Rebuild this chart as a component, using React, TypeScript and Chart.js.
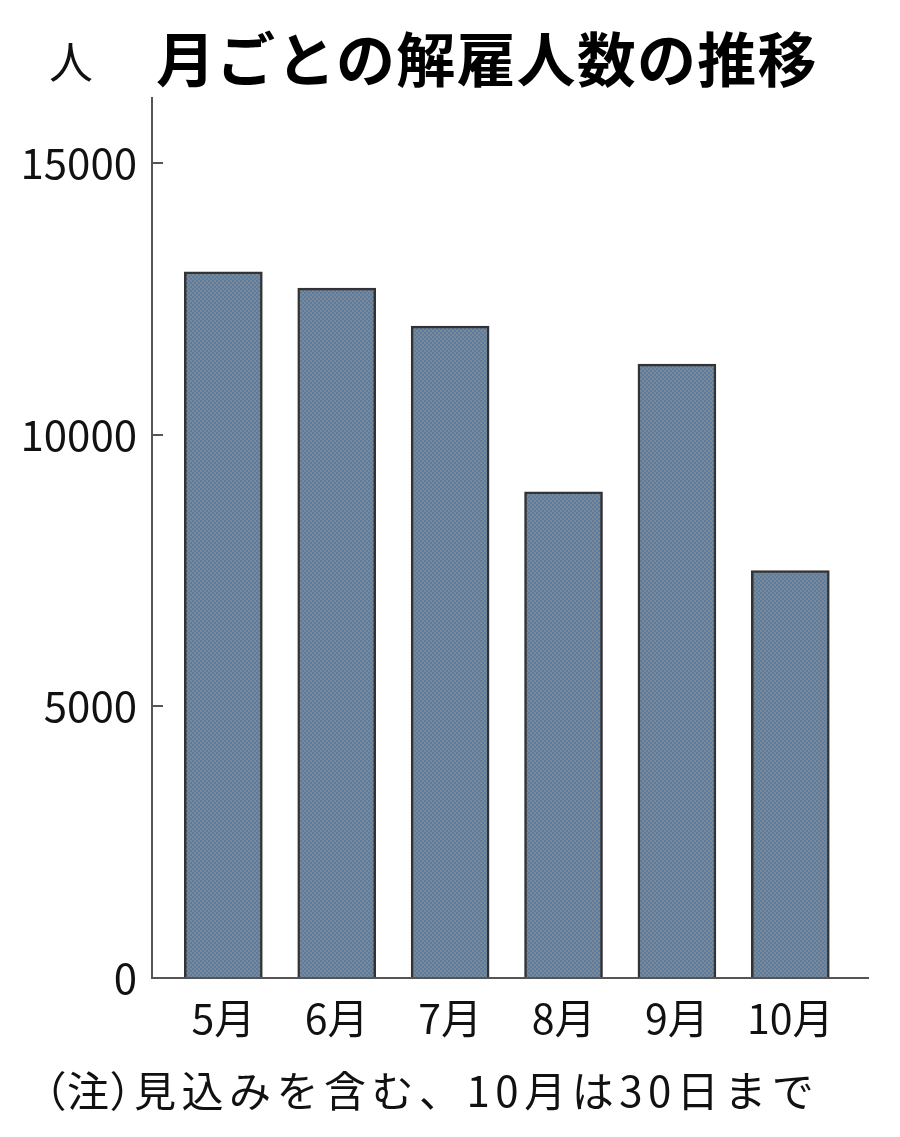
import React, { useEffect, useRef } from "react";
import { Chart, registerables } from "chart.js";
Chart.register(...registerables);

const months = ["5月", "6月", "7月", "8月", "9月", "10月"];
const dismissals = [13000, 12700, 12000, 8950, 11300, 7500];
const yTicks = [0, 5000, 10000, 15000];
const unitLabel = "人";
const titleText = "月ごとの解雇人数の推移";
const notePrefix = "（注）";
const noteBody = "見込みを含む、10月は30日まで";

const cjk = "'Noto Sans CJK JP','Noto Sans',sans-serif";

export default function App() {
  const ref = useRef<HTMLCanvasElement>(null);
  useEffect(() => {
    const pc = document.createElement("canvas");
    pc.width = 4;
    pc.height = 4;
    const p = pc.getContext("2d")!;
    p.fillStyle = "#7c8894";
    p.fillRect(0, 0, 4, 4);
    p.fillStyle = "#5a7ca3";
    p.fillRect(0, 0, 2, 2);
    p.fillRect(2, 2, 2, 2);
    const ctx = ref.current!.getContext("2d")!;
    const pattern = ctx.createPattern(pc, "repeat")!;
    const chart = new Chart(ctx, {
      type: "bar",
      data: {
        datasets: [
          {
            data: months.map((_, i) => ({ x: i, y: dismissals[i] })),
            backgroundColor: pattern as any,
            borderColor: "#333",
            borderWidth: 2.5,
            barThickness: 78,
          },
        ],
      },
      options: {
        animation: false,
        responsive: false,
        layout: { padding: { top: 98, right: 32, left: 0, bottom: 0 } },
        plugins: { legend: { display: false }, tooltip: { enabled: false } },
        scales: {
          x: {
            type: "linear",
            offset: false,
            min: -0.629,
            max: 5.685,
            afterBuildTicks: (s: any) => {
              s.ticks = months.map((_, i) => ({ value: i }));
            },
            afterFit: (s: any) => {
              s.height = 1137 - 978;
            },
            grid: { display: false, drawTicks: false, offset: false },
            border: { color: "#555", width: 2 },
            ticks: {
              callback: (v: any) => months[v as number] ?? "",
              font: { family: cjk, size: 41 },
              color: "#111",
              padding: 16,
              maxRotation: 0,
              autoSkip: false,
            },
          },
          y: {
            min: 0,
            max: 16200,
            afterBuildTicks: (s: any) => {
              s.ticks = yTicks.map((v) => ({ value: v }));
            },
            afterFit: (s: any) => {
              s.width = 152;
            },
            grid: { drawOnChartArea: false, tickLength: -11, color: "#555", lineWidth: 2 },
            border: { color: "#555", width: 2 },
            ticks: {
              padding: 26,
              font: { family: cjk, size: 42 },
              color: "#111",
              callback: (v: any) => String(v),
            },
          },
        },
      },
    } as any);
    return () => chart.destroy();
  }, []);

  return (
    <div style={{ position: "absolute", left: 0, top: 0, width: 900, height: 1137, background: "#fff", overflow: "hidden" }}>
      <canvas ref={ref} width={900} height={1137} style={{ position: "absolute", left: 0, top: 0, width: 900, height: 1137 }} />
      <div style={{ position: "absolute", left: 49, top: 38, fontFamily: cjk, fontSize: 44, lineHeight: 1, color: "#111" }}>{unitLabel}</div>
      <div style={{ position: "absolute", left: 156, top: 27, fontFamily: cjk, fontWeight: 700, fontSize: 59, letterSpacing: 1.2, lineHeight: 1, color: "#000", whiteSpace: "nowrap" }}>{titleText}</div>
      <div style={{ position: "absolute", left: 44, top: 1068, fontFamily: cjk, fontSize: 42, letterSpacing: 5.5, lineHeight: 1, color: "#111", whiteSpace: "nowrap" }}>
        <span style={{ fontFeatureSettings: '"palt"', letterSpacing: 2 }}>{notePrefix}</span>
        <span>{noteBody}</span>
      </div>
    </div>
  );
}
